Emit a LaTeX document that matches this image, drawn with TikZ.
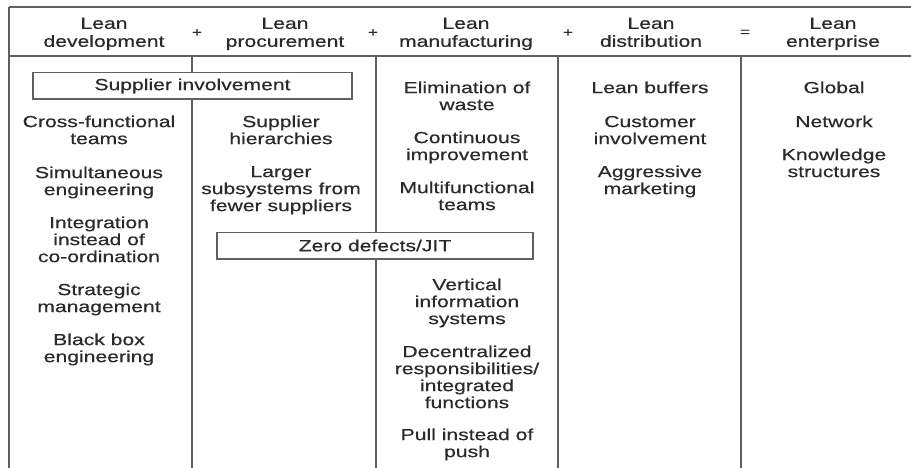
\documentclass[tikz,border=0pt]{standalone}
\usepackage{fontspec}
\setmainfont{Liberation Sans}[FakeStretch=1.32,FakeBold=0.5]
\definecolor{rulegray}{HTML}{606060}
\definecolor{inkc}{HTML}{2A2A2A}
\begin{document}
\begin{tikzpicture}[x=1pt,y=-1pt,
  rule/.style={draw=rulegray, line width=1.8pt},
  body/.style={inner sep=0pt, anchor=north, align=center, text=inkc, font=\fontsize{16}{17}\selectfont},
  head/.style={inner sep=0pt, anchor=north, align=center, text=inkc, font=\fontsize{16}{18}\selectfont},
  op/.style={inner sep=0pt, text=inkc, font=\fontsize{13}{13}\selectfont},
  band/.style={draw=rulegray, line width=1.5pt, fill=white, inner sep=0pt, minimum height=26.5pt, text=inkc, font=\fontsize{16}{17}\selectfont}]
\useasboundingbox (0,0) rectangle (911,468);
\fill[white] (0,0) rectangle (911,468);
% frame lines
\draw[rule] (9,7) -- (911,7);
\draw[rule] (9,56) -- (911,56);
\draw[rule] (9,7) -- (9,468);
\foreach \xx in {192,376,558,741} \draw[rule] (\xx,56) -- (\xx,468);
% header
\node[head] (h1) at (104,16) {\strut Lean\\development};
\node[op] (p1) at (197,33) {+};
\node[head] (h2) at (285,16) {\strut Lean\\procurement};
\node[op] (p2) at (373,33) {+};
\node[head] (h3) at (466,16) {\strut Lean\\manufacturing};
\node[op] (p3) at (568,33) {+};
\node[head] (h4) at (651,16) {\strut Lean\\distribution};
\node[op] (eq) at (745,33) {=};
\node[head] (h5) at (833,16) {\strut Lean\\enterprise};
% bands
\node[band, minimum width=319pt] (supp) at (192.5,86) {Supplier involvement};
\node[band, minimum width=316pt] (zero) at (375,245.5) {Zero defects/JIT};
% column 1
\node[body] (c1a) at (99,115) {\strut Cross-functional\\teams};
\node[body] (c1b) at (99,166) {\strut Simultaneous\\engineering};
\node[body] (c1c) at (99,216) {\strut Integration\\instead of\\co-ordination};
\node[body] (c1d) at (99,283) {\strut Strategic\\management};
\node[body] (c1e) at (99,333) {\strut Black box\\engineering};
% column 2
\node[body] (c2a) at (281,115) {\strut Supplier\\hierarchies};
\node[body] (c2b) at (281,165) {\strut Larger\\subsystems from\\fewer suppliers};
% column 3
\node[body] (c3a) at (467,81) {\strut Elimination of\\waste};
\node[body] (c3b) at (467,131) {\strut Continuous\\improvement};
\node[body] (c3c) at (467,181) {\strut Multifunctional\\teams};
\node[body] (c3d) at (467,278) {\strut Vertical\\information\\systems};
\node[body] (c3e) at (467,345) {\strut Decentralized\\responsibilities/\\integrated\\functions};
\node[body] (c3f) at (467,428) {\strut Pull instead of\\push};
% column 4
\node[body] (c4a) at (650,81) {\strut Lean buffers};
\node[body] (c4b) at (650,115) {\strut Customer\\involvement};
\node[body] (c4c) at (650,165) {\strut Aggressive\\marketing};
% column 5
\node[body] (c5a) at (834,81) {\strut Global};
\node[body] (c5b) at (834,115) {\strut Network};
\node[body] (c5c) at (834,148) {\strut Knowledge\\structures};
\end{tikzpicture}
\end{document}
